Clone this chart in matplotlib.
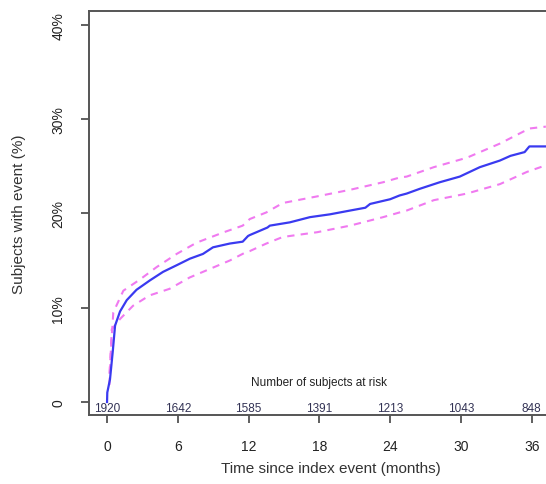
import matplotlib
matplotlib.use("Agg")
import matplotlib.pyplot as plt

# Cumulative incidence estimate (months, percent)
t_est = [0, 0.02, 0.25, 0.48, 0.68, 1.1, 1.67, 2.5, 3.64, 4.75, 5.9, 7.03, 8.13, 8.98,
         10.4, 11.5, 11.95, 12.1, 13.6, 13.8, 15.5, 17.2, 18.9, 20.6, 21.9, 22.3, 24.0,
         24.8, 25.4, 26.5, 28.2, 29.9, 31.6, 33.3, 34.2, 35.4, 35.8, 37.2]
y_est = [0, 1.0, 2.4, 5.3, 8.1, 9.6, 10.8, 11.9, 12.9, 13.8, 14.5, 15.2, 15.7, 16.4,
         16.8, 17.0, 17.6, 17.7, 18.5, 18.7, 19.05, 19.6, 19.9, 20.3, 20.6, 21.0, 21.5,
         21.9, 22.1, 22.6, 23.3, 23.9, 24.9, 25.6, 26.1, 26.5, 27.1, 27.1]

# Upper and lower confidence limits
t_hi = [0.2, 0.53, 1.38, 2.8, 4.2, 5.9, 7.6, 9.9, 11.5, 12.1, 13.5, 14.9, 17.8, 20.6,
        23.4, 24.8, 25.4, 27.7, 30.5, 33.3, 35.8, 37.2]
y_hi = [3.0, 9.5, 11.8, 13.0, 14.3, 15.7, 16.9, 18.0, 18.7, 19.4, 20.1, 21.1, 21.8, 22.5,
        23.3, 23.8, 23.9, 24.9, 25.9, 27.4, 29.0, 29.2]
t_lo = [0.2, 0.4, 1.1, 2.2, 3.6, 5.3, 7.0, 8.7, 10.4, 11.8, 12.1, 13.5, 14.9, 17.8, 20.6,
        23.4, 24.8, 25.4, 27.7, 30.5, 33.3, 35.6, 37.2]
y_lo = [1.8, 7.7, 8.8, 10.2, 11.3, 12.0, 13.2, 14.1, 15.0, 15.9, 16.0, 16.8, 17.5, 18.0,
        18.7, 19.6, 20.1, 20.3, 21.4, 22.1, 23.1, 24.4, 25.1]

# Number at risk table
risk_times = [0, 6, 12, 18, 24, 30, 36]
risk_counts = ["1920", "1642", "1585", "1391", "1213", "1043", "848"]

yticks = [0, 10, 20, 30, 40]
ytick_labels = ["0", "10%", "20%", "30%", "40%"]

plt.rcParams["font.family"] = ["Liberation Sans", "DejaVu Sans"]

fig = plt.figure(figsize=(5.46, 4.85), dpi=100)
ax = fig.add_axes([89 / 546, 69 / 485, 484 / 546, 404 / 485])

ax.plot(t_est, y_est, color="#3a3af0", lw=1.6, zorder=3)
ax.plot(t_hi, y_hi, color="#f07af0", lw=1.5, ls=(0, (3.5, 3)), zorder=2)
ax.plot(t_lo, y_lo, color="#f07af0", lw=1.5, ls=(0, (3.5, 3)), zorder=2)

ax.set_xlim(-1.53, 39.5)
ax.set_ylim(-1.38, 41.46)

ax.set_xticks(risk_times)
ax.set_xticklabels([str(v) for v in risk_times], fontsize=10, color="#222222")
ax.set_yticks(yticks)
ax.set_yticklabels(ytick_labels, fontsize=10, rotation=90, va="center", color="#222222")
ax.tick_params(axis="both", direction="out", length=6, width=1.2, color="#444444")
ax.tick_params(axis="x", pad=11)
ax.tick_params(axis="y", pad=11)

for s in ax.spines.values():
    s.set_linewidth(1.4)
    s.set_color("#555555")

for t, n in zip(risk_times, risk_counts):
    ax.text(t, -0.62, n, ha="center", va="center", fontsize=8.5, color="#333355")
ax.text(18, 2.1, "Number of subjects at risk", ha="center", va="center",
        fontsize=8.5, color="#222222")

ax.set_xlabel("Time since index event (months)", fontsize=11, color="#333333", labelpad=6)
ax.set_ylabel("Subjects with event (%)", fontsize=11, color="#333333", labelpad=18)

fig.savefig("out.png", dpi=100)
